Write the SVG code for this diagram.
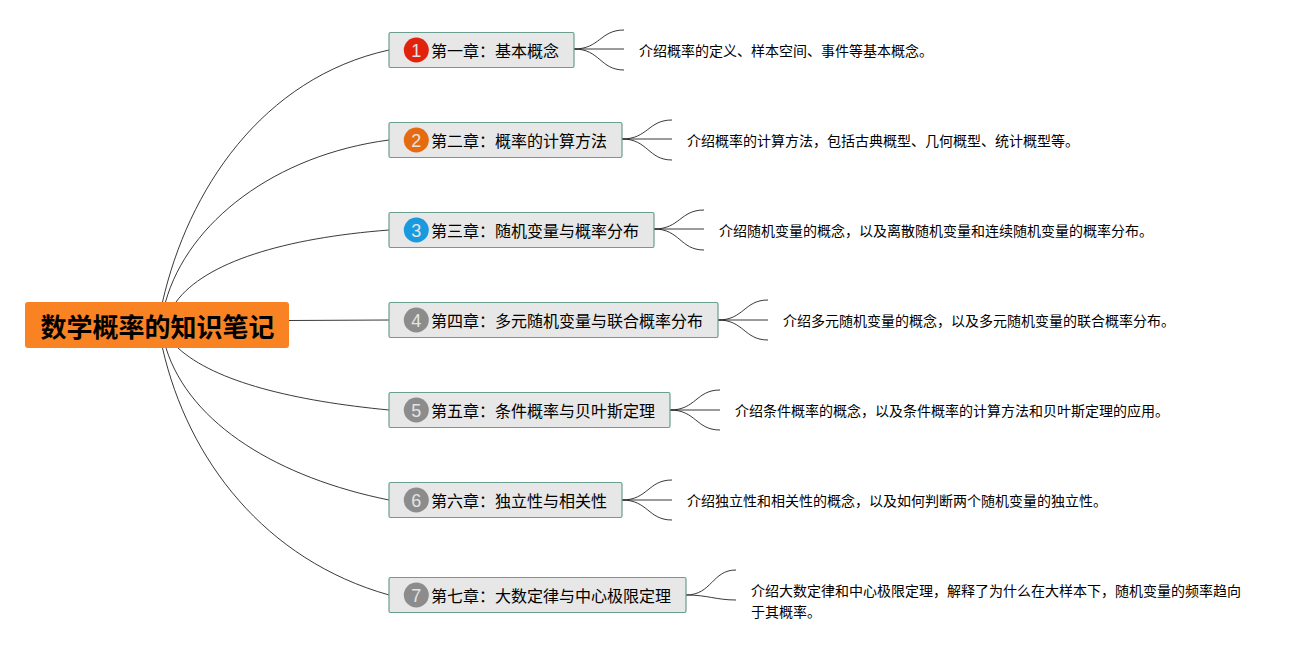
<svg xmlns="http://www.w3.org/2000/svg" width="1311" height="650" viewBox="0 0 1311 650">
<style>
.c{fill:none;stroke:#222;stroke-width:.9}
.t{fill:#e6e7e6;stroke:#6a9e90;stroke-width:1.2}
.l{font:16px "Noto Sans CJK SC","Liberation Sans",sans-serif;fill:#000}
.d{font:14px "Noto Sans CJK SC","Liberation Sans",sans-serif;fill:#000}
.n{font:18px "Liberation Sans",sans-serif;fill:#e4e4e4;text-anchor:middle}
</style>
<rect width="1311" height="650" fill="#fff"/>
<g id="connectors">
<path class="c" d="M162.500 302C188 190 262 78 389 50"/>
<path class="c" d="M165.500 302C188 222 275 155 389 140"/>
<path class="c" d="M176 302C205 262 285 238 389 230"/>
<path class="c" d="M289 320.500L389 320"/>
<path class="c" d="M178 348C215 382 295 401 389 410"/>
<path class="c" d="M166 348C190 425 280 478 389 500"/>
<path class="c" d="M162.500 348C188 460 265 560 389 595"/>
<path class="c" d="M574 49C600 49 600 30 624 30M574 49H624M574 49C600 49 600 70 624 70"/>
<path class="c" d="M622 139C648 139 648 120 672 120M622 139H672M622 139C648 139 648 160 672 160"/>
<path class="c" d="M654 229C680 229 680 210 704 210M654 229H704M654 229C680 229 680 250 704 250"/>
<path class="c" d="M718 320C744 320 744 300 768 300M718 320H768M718 320C744 320 744 340 768 340"/>
<path class="c" d="M670 410C696 410 696 390 720 390M670 410H720M670 410C696 410 696 430 720 430"/>
<path class="c" d="M622 500C648 500 648 480 672 480M622 500H672M622 500C648 500 648 520 672 520"/>
<path class="c" d="M686 595C712 595 712 570 736 570M686 595C708 595 716 600 736 600"/>
</g>
<g id="root"><rect x="25" y="302" width="264" height="46" rx="3" fill="#f98223"/><text x="40.500" y="336.500" font-family="Noto Sans CJK SC,sans-serif" font-size="26" font-weight="700" fill="#000">数学概率的知识笔记</text></g>
<g id="n1"><rect class="t" x="389" y="32.500" width="185" height="35" rx="1.500"/><circle cx="416.300" cy="50" r="12.500" fill="#e1230e"/><text class="n" x="416.300" y="56.500">1</text><text class="l" x="431" y="57">第一章：基本概念</text></g>
<g id="d1"><text class="d" x="639" y="56">介绍概率的定义、样本空间、事件等基本概念。</text></g>
<g id="n2"><rect class="t" x="389" y="122.500" width="233" height="35" rx="1.500"/><circle cx="416.300" cy="140" r="12.500" fill="#e66a10"/><text class="n" x="416.300" y="146.500">2</text><text class="l" x="431" y="147">第二章：概率的计算方法</text></g>
<g id="d2"><text class="d" x="687" y="146">介绍概率的计算方法，包括古典概型、几何概型、统计概型等。</text></g>
<g id="n3"><rect class="t" x="389" y="212.500" width="265" height="35" rx="1.500"/><circle cx="416.300" cy="230" r="12.500" fill="#1a9ade"/><text class="n" x="416.300" y="236.500">3</text><text class="l" x="431" y="237">第三章：随机变量与概率分布</text></g>
<g id="d3"><text class="d" x="719" y="236">介绍随机变量的概念，以及离散随机变量和连续随机变量的概率分布。</text></g>
<g id="n4"><rect class="t" x="389" y="302.500" width="329" height="35" rx="1.500"/><circle cx="416.300" cy="320" r="12.500" fill="#8c8c8c"/><text class="n" x="416.300" y="326.500">4</text><text class="l" x="431" y="327">第四章：多元随机变量与联合概率分布</text></g>
<g id="d4"><text class="d" x="783" y="326">介绍多元随机变量的概念，以及多元随机变量的联合概率分布。</text></g>
<g id="n5"><rect class="t" x="389" y="392.500" width="281" height="35" rx="1.500"/><circle cx="416.300" cy="410" r="12.500" fill="#8c8c8c"/><text class="n" x="416.300" y="416.500">5</text><text class="l" x="431" y="417">第五章：条件概率与贝叶斯定理</text></g>
<g id="d5"><text class="d" x="735" y="416">介绍条件概率的概念，以及条件概率的计算方法和贝叶斯定理的应用。</text></g>
<g id="n6"><rect class="t" x="389" y="482.500" width="233" height="35" rx="1.500"/><circle cx="416.300" cy="500" r="12.500" fill="#8c8c8c"/><text class="n" x="416.300" y="506.500">6</text><text class="l" x="431" y="507">第六章：独立性与相关性</text></g>
<g id="d6"><text class="d" x="687" y="506">介绍独立性和相关性的概念，以及如何判断两个随机变量的独立性。</text></g>
<g id="n7"><rect class="t" x="389" y="577.500" width="297" height="35" rx="1.500"/><circle cx="416.300" cy="595" r="12.500" fill="#8c8c8c"/><text class="n" x="416.300" y="601.500">7</text><text class="l" x="431" y="602">第七章：大数定律与中心极限定理</text></g>
<g id="d7"><text class="d" x="751" y="596">介绍大数定律和中心极限定理，解释了为什么在大样本下，随机变量的频率趋向</text><text class="d" x="751" y="617">于其概率。</text></g>
</svg>
